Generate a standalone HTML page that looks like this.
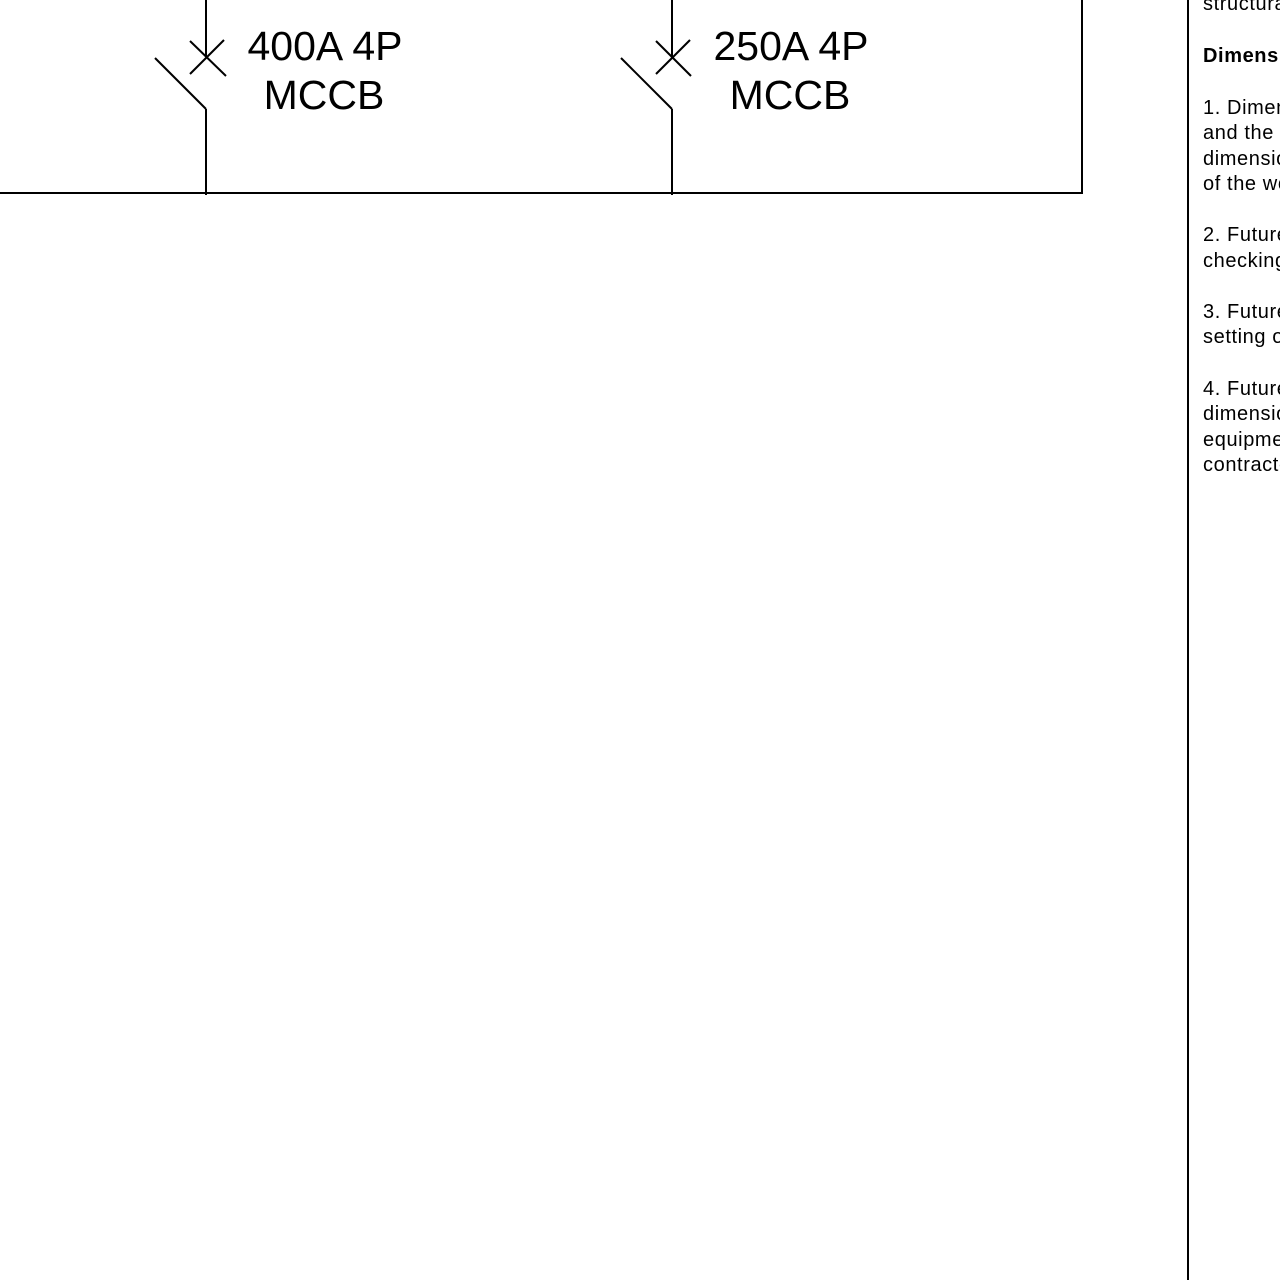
<!DOCTYPE html>
<html><head><meta charset="utf-8"><style>
html,body{margin:0;padding:0;background:#fff;width:1280px;height:1280px;overflow:hidden;position:relative}
svg{position:absolute;left:0;top:0}
.t{position:absolute;left:1203px;font:20px "Liberation Sans",sans-serif;letter-spacing:0.6px;color:#000;white-space:nowrap;line-height:20px}
</style></head><body>
<svg width="1280" height="1280" xmlns="http://www.w3.org/2000/svg">
<g stroke="#000" stroke-width="2" fill="none">
<line x1="0" y1="193" x2="1083" y2="193"/>
<line x1="1082" y1="0" x2="1082" y2="194"/>
<line x1="1188" y1="0" x2="1188" y2="1280"/>
<line x1="206" y1="0" x2="206" y2="57"/>
<line x1="190" y1="41" x2="226" y2="76"/>
<line x1="190" y1="74" x2="224" y2="40"/>
<line x1="155" y1="58" x2="206" y2="109"/>
<line x1="206" y1="109" x2="206" y2="195"/>
<line x1="672" y1="0" x2="672" y2="57"/>
<line x1="656" y1="74" x2="690" y2="40"/>
<line x1="656" y1="41" x2="691" y2="76"/>
<line x1="621" y1="58" x2="672" y2="109"/>
<line x1="672" y1="109" x2="672" y2="195"/>
</g>
<g font-family="Liberation Sans, sans-serif" font-size="41" text-anchor="middle" fill="#000">
<text x="325" y="60">400A 4P</text>
<text x="324" y="109">MCCB</text>
<text x="791" y="60">250A 4P</text>
<text x="790" y="109">MCCB</text>
</g>
</svg>
<div class="t" style="top:-6px">structural</div>
<div class="t" style="top:46px;font-weight:bold">Dimensions</div>
<div class="t" style="top:98px">1. Dimensions</div>
<div class="t" style="top:123px">and the</div>
<div class="t" style="top:149px">dimensions</div>
<div class="t" style="top:174px">of the works</div>
<div class="t" style="top:225px">2. Future</div>
<div class="t" style="top:251px">checking</div>
<div class="t" style="top:302px">3. Future</div>
<div class="t" style="top:327px">setting out</div>
<div class="t" style="top:379px">4. Future</div>
<div class="t" style="top:404px">dimensions</div>
<div class="t" style="top:430px">equipment</div>
<div class="t" style="top:455px">contractor</div>
</body></html>
